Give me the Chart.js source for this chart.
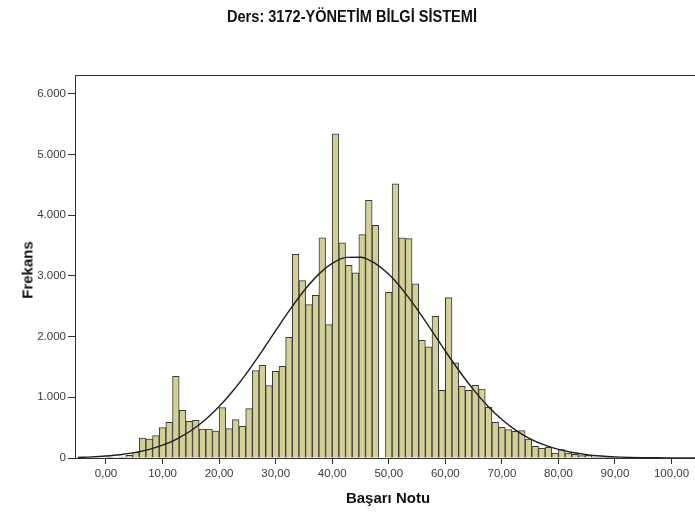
<!DOCTYPE html>
<html>
<head>
<meta charset="utf-8">
<script src="https://cdn.jsdelivr.net/npm/chart.js@4.4.1/dist/chart.umd.min.js"></script>
<style>
  html, body { margin: 0; padding: 0; background: #fff; overflow: hidden; }
  #wrap { position: relative; width: 695px; height: 515px; overflow: hidden; background: #fff; }
  #c { position: absolute; left: 0; top: 0; }
  .lbl { position: absolute; font-family: "Liberation Sans", Arial, sans-serif; font-weight: bold; color: #111; white-space: nowrap; line-height: 1; }
  #title { font-size: 16px; top: 9px; transform-origin: 0 0; }
  #ytitle { font-size: 15px; left: 27px; top: 270px; transform: translate(-50%, -50%) rotate(-90deg); }
  #xtitle { font-size: 15px; left: 388px; top: 497px; transform: translate(-50%, -50%); }
</style>
</head>
<body>
<div id="wrap">
  <canvas id="c" width="700" height="515" style="width:700px;height:515px"></canvas>
  <div id="title" class="lbl">Ders: 3172-YÖNETİM BİLGİ SİSTEMİ</div>
  <div id="ytitle" class="lbl">Frekans</div>
  <div id="xtitle" class="lbl">Başarı Notu</div>
</div>
<script>
// Histogram of scores: 85 equal bins spanning 0..100
const binCount = 85;
const scoreMin = 0;
const scoreMax = 100;

// Count per bin, bin 0 first
const frequencies = [
  4, 8, 15, 45, 95,
  330, 313, 368, 500, 588,
  1346, 786, 604, 621, 478,
  478, 445, 830, 484, 632,
  522, 813, 1440, 1527, 1192,
  1429, 1511, 1989, 3357, 2923,
  2527, 2681, 3626, 2198, 5341,
  3544, 3176, 3049, 3681, 4247,
  3835, 0, 2731, 4516, 3626,
  3615, 2868, 1940, 1830, 2335,
  1115, 2643, 1566, 1181, 1115,
  1198, 1137, 835, 588, 505,
  467, 440, 451, 313, 192,
  159, 176, 82, 137, 82,
  60, 38, 44, 20, 12,
  6, 3, 0, 0, 0,
  0, 0, 0, 0, 0
];

// Normal curve overlay (frequency scale)
const curveX = [-5, -2.5, 0, 2.5, 5, 7.5, 10, 12.5, 15, 17.5, 20, 22.5, 25, 27.5, 30, 32.5, 35, 37.5,
  40, 42.5, 45, 47.5, 50, 52.5, 55, 57.5, 60, 62.5, 65, 67.5, 70, 72.5, 75, 77.5, 80, 82.5, 85,
  87.5, 90, 92.5, 95, 97.5, 100, 102.5, 105];
const curveY = [11, 19, 33, 54, 88, 138, 211, 313, 449, 626, 847, 1112, 1416, 1749, 2098, 2440, 2755, 3017,
  3206, 3306, 3308, 3212, 3026, 2766, 2453, 2112, 1763, 1429, 1123, 857, 634, 456, 317, 215, 141, 90, 55,
  33, 19, 11, 6, 3, 1.5, 0.7, 0.3];

// Axis ticks
const xTickValues = [0, 10, 20, 30, 40, 50, 60, 70, 80, 90, 100];
const xTickLabels = ["0,00", "10,00", "20,00", "30,00", "40,00", "50,00", "60,00", "70,00", "80,00", "90,00", "100,00"];
const yTickValues = [0, 1000, 2000, 3000, 4000, 5000, 6000];
const yTickLabels = ["0", "1.000", "2.000", "3.000", "4.000", "5.000", "6.000"];

const binWidth = (scoreMax - scoreMin) / binCount;
const barPoints = frequencies.map((f, k) => ({ x: scoreMin + (k + 0.5) * binWidth, y: f }));
const curvePoints = curveX.map((x, i) => ({ x: x, y: curveY[i] }));

const tickFont = { family: '"Liberation Sans", Arial, sans-serif', size: 11.5 };
const axisColor = '#2e2e2e';

// Top and right edges of the plot frame
const frame = {
  id: 'frame',
  afterDatasetsDraw(chart) {
    const a = chart.chartArea;
    const ctx = chart.ctx;
    ctx.save();
    ctx.strokeStyle = axisColor;
    ctx.lineWidth = 1;
    ctx.beginPath();
    ctx.moveTo(a.left, Math.round(a.top) + 0.5);
    ctx.lineTo(a.right, Math.round(a.top) + 0.5);
    ctx.moveTo(Math.round(a.right) - 0.5, a.top);
    ctx.lineTo(Math.round(a.right) - 0.5, a.bottom);
    ctx.stroke();
    ctx.restore();
  }
};

new Chart(document.getElementById('c'), {
  type: 'bar',
  data: {
    datasets: [
      {
        type: 'line',
        data: curvePoints,
        borderColor: '#1e1e1e',
        borderWidth: 1.4,
        pointRadius: 0,
        cubicInterpolationMode: 'monotone',
        fill: false,
        order: 0
      },
      {
        type: 'bar',
        data: barPoints,
        backgroundColor: '#d4ce97',
        borderColor: '#383838',
        borderWidth: 1,
        borderSkipped: 'start',
        barPercentage: 1,
        categoryPercentage: 1,
        order: 1
      }
    ]
  },
  plugins: [frame],
  options: {
    responsive: false,
    animation: false,
    events: [],
    layout: { padding: { top: 75, right: 3, left: 0, bottom: 0 } },
    plugins: { legend: { display: false }, tooltip: { enabled: false }, title: { display: false } },
    scales: {
      x: {
        type: 'linear',
        offset: false,
        min: -5.48,
        max: 104.5,
        afterBuildTicks: s => { s.ticks = xTickValues.map(v => ({ value: v })); },
        afterFit: s => { s.height = 57; },
        ticks: {
          callback: v => xTickLabels[xTickValues.indexOf(v)],
          autoSkip: false, maxRotation: 0, font: tickFont, color: '#3a3a3a', padding: 3
        },
        grid: { display: true, offset: false, drawOnChartArea: false, drawTicks: true, tickLength: 6, color: axisColor, z: 1 },
        border: { display: true, color: axisColor, width: 1, z: 1 }
      },
      y: {
        type: 'linear',
        min: 0,
        max: 6310,
        afterBuildTicks: s => { s.ticks = yTickValues.map(v => ({ value: v })); },
        afterFit: s => { s.width = 75; },
        ticks: {
          callback: v => yTickLabels[yTickValues.indexOf(v)],
          font: tickFont, color: '#3a3a3a', padding: 2
        },
        grid: { display: true, drawOnChartArea: false, drawTicks: true, tickLength: 7, color: axisColor, z: 1 },
        border: { display: true, color: axisColor, width: 1, z: 1 }
      }
    }
  }
});

// Condensed heading centred over the plot
const title = document.getElementById('title');
const targetWidth = 250;
const natural = title.getBoundingClientRect().width;
title.style.transform = 'scaleX(' + (targetWidth / natural) + ')';
title.style.left = (352 - targetWidth / 2) + 'px';
</script>
</body>
</html>
